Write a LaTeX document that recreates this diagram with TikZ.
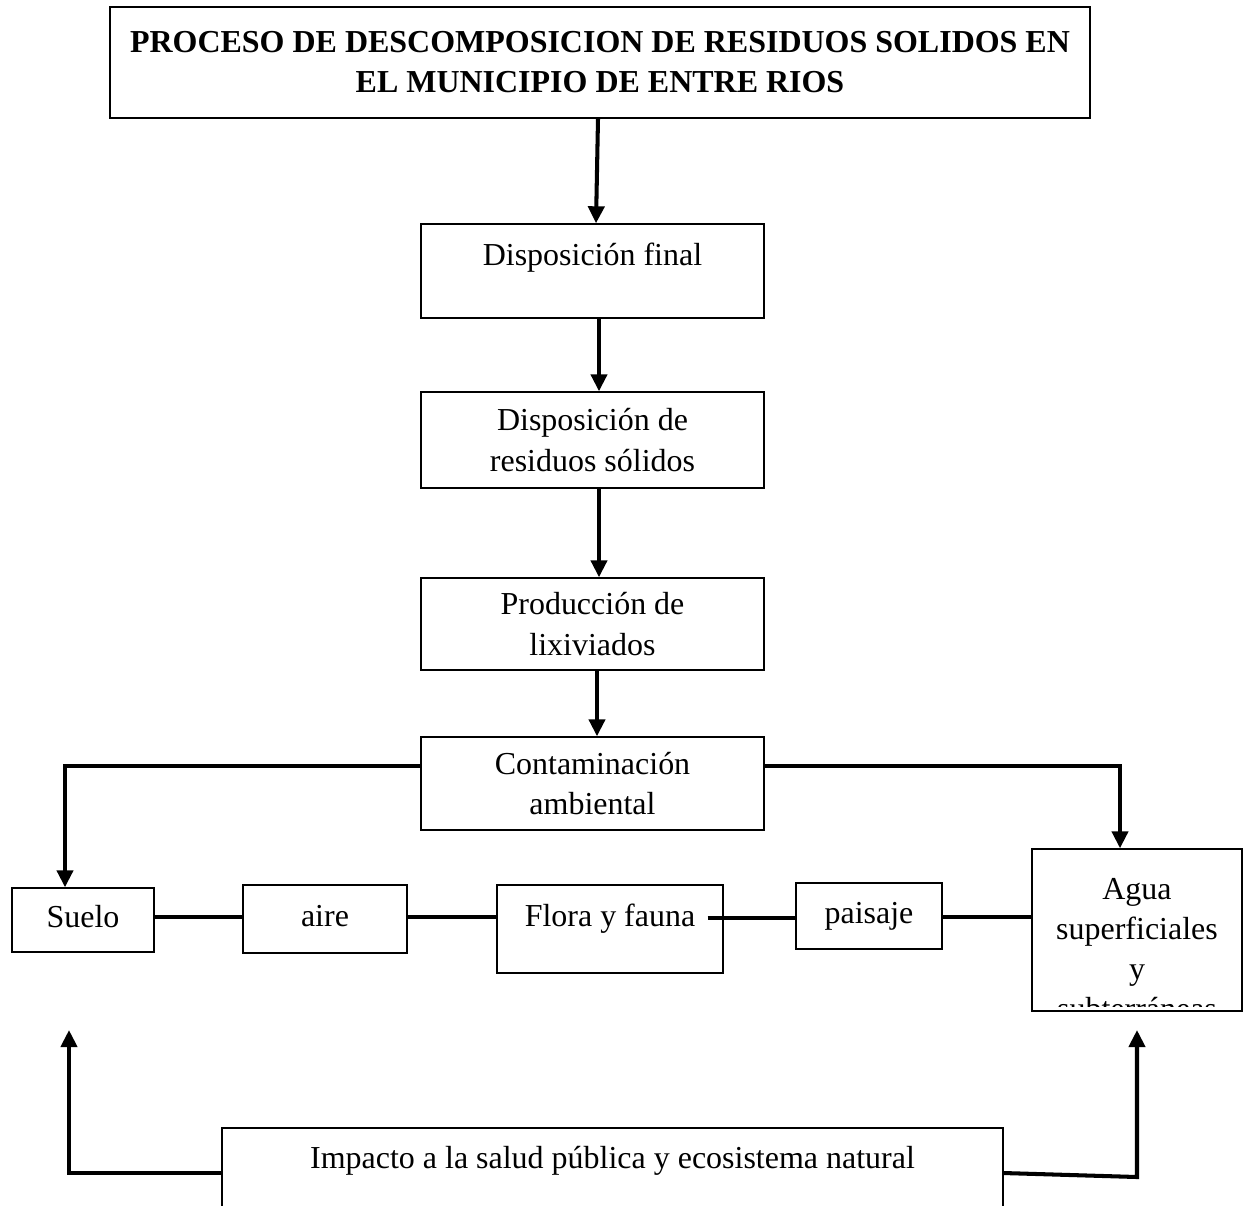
\documentclass[tikz,border=0pt]{standalone}
\usepackage{fontspec}
\setmainfont{Liberation Serif}
\usetikzlibrary{arrows.meta}

\tikzset{
  box/.style={draw, line width=0.8pt, inner sep=0pt, align=center},
  arr/.style={line width=2.3pt, -{Triangle[length=0.34cm, width=0.32cm]}},
  link/.style={line width=2.3pt}
}

\begin{document}
\begin{tikzpicture}[x=0.02cm, y=-0.02cm, font=\fontsize{18.2}{22.8}\selectfont]
  \clip (0, 0) rectangle (1248, 1205);

  % Top: title and the chain down
  \node[box, minimum width=19.6cm, minimum height=2.22cm, font=\fontsize{18.2}{22.8}\selectfont\bfseries] (title) at (600, 62.5) {PROCESO DE DESCOMPOSICION DE RESIDUOS SOLIDOS EN\\EL MUNICIPIO DE ENTRE RIOS};
  \node[box, minimum width=6.86cm, text height=0.82cm, text depth=1.06cm] (final) at (592.5, 271) {Disposición final};
  \node[box, minimum width=6.86cm, minimum height=1.92cm] (residuos) at (592.5, 440) {Disposición de\\residuos sólidos};
  \node[box, minimum width=6.86cm, minimum height=1.84cm] (lixiviados) at (592.5, 624) {Producción de\\lixiviados};
  \node[box, minimum width=6.86cm, minimum height=1.86cm] (contaminacion) at (592.5, 783.5) {Contaminación\\ambiental};
  \draw[arr] ([xshift=-0.04cm]title.south) -- ([xshift=0.07cm]final.north);
  \draw[arr] ([xshift=0.13cm]final.south) -- ([xshift=0.13cm]residuos.north);
  \draw[arr] ([xshift=0.13cm]residuos.south) -- ([xshift=0.13cm]lixiviados.north);
  \draw[arr] ([xshift=0.09cm]lixiviados.south) -- ([xshift=0.09cm]contaminacion.north);

  % Middle row
  \node[box, minimum width=2.84cm, text height=0.78cm, text depth=0.5cm] (suelo) at (83, 920) {Suelo};
  \node[box, minimum width=3.28cm, text height=0.82cm, text depth=0.54cm] (aire) at (325, 919) {aire};
  \node[box, minimum width=4.52cm, text height=0.82cm, text depth=0.94cm] (flora) at (610, 929) {Flora y fauna};
  \node[box, minimum width=2.92cm, text height=0.8cm, text depth=0.52cm] (paisaje) at (869, 916) {paisaje};
  \node[box, minimum width=4.2cm, minimum height=3.24cm,
    path picture={
      \clip (path picture bounding box.north west) rectangle ([yshift=0.1cm]path picture bounding box.south east);
      \node[align=center, anchor=north, inner sep=0pt] at ([yshift=-0.37cm]path picture bounding box.north) {Agua\\superficiales\\y\\subterráneas};
    }] (agua) at (1137, 930) {};
  \draw[arr] ([yshift=0.35cm]contaminacion.west) -| ([xshift=-0.36cm]suelo.north);
  \draw[arr] ([yshift=0.35cm]contaminacion.east) -| ([xshift=-0.34cm]agua.north);
  \draw[link] ([yshift=0.06cm]suelo.east) -- ([yshift=0.06cm]suelo.east -| aire.west);
  \draw[link] ([yshift=0.04cm]aire.east) -- ([yshift=0.04cm]aire.east -| flora.west);
  \draw[link] ([xshift=-0.32cm, yshift=0.23cm]flora.east) -- ([yshift=0.23cm]flora.east -| paisaje.west);
  \draw[link] ([yshift=-0.02cm]paisaje.east) -- ([yshift=-0.02cm]paisaje.east -| agua.west);

  % Bottom: impact back to both ends
  \node[box, minimum width=15.62cm, text height=0.8cm, text depth=3.2cm] (impacto) at (612.5, 1228) {Impacto a la salud pública y ecosistema natural};
  \coordinate (sueloarr) at (69, 1030);
  \coordinate (aguaarr) at (1137, 1030);
  \draw[arr] ([yshift=1.1cm]impacto.west) -| (sueloarr);
  \draw[arr] ([yshift=1.1cm]impacto.east) -- (aguaarr |- 0, 1177) -- (aguaarr);
\end{tikzpicture}
\end{document}
